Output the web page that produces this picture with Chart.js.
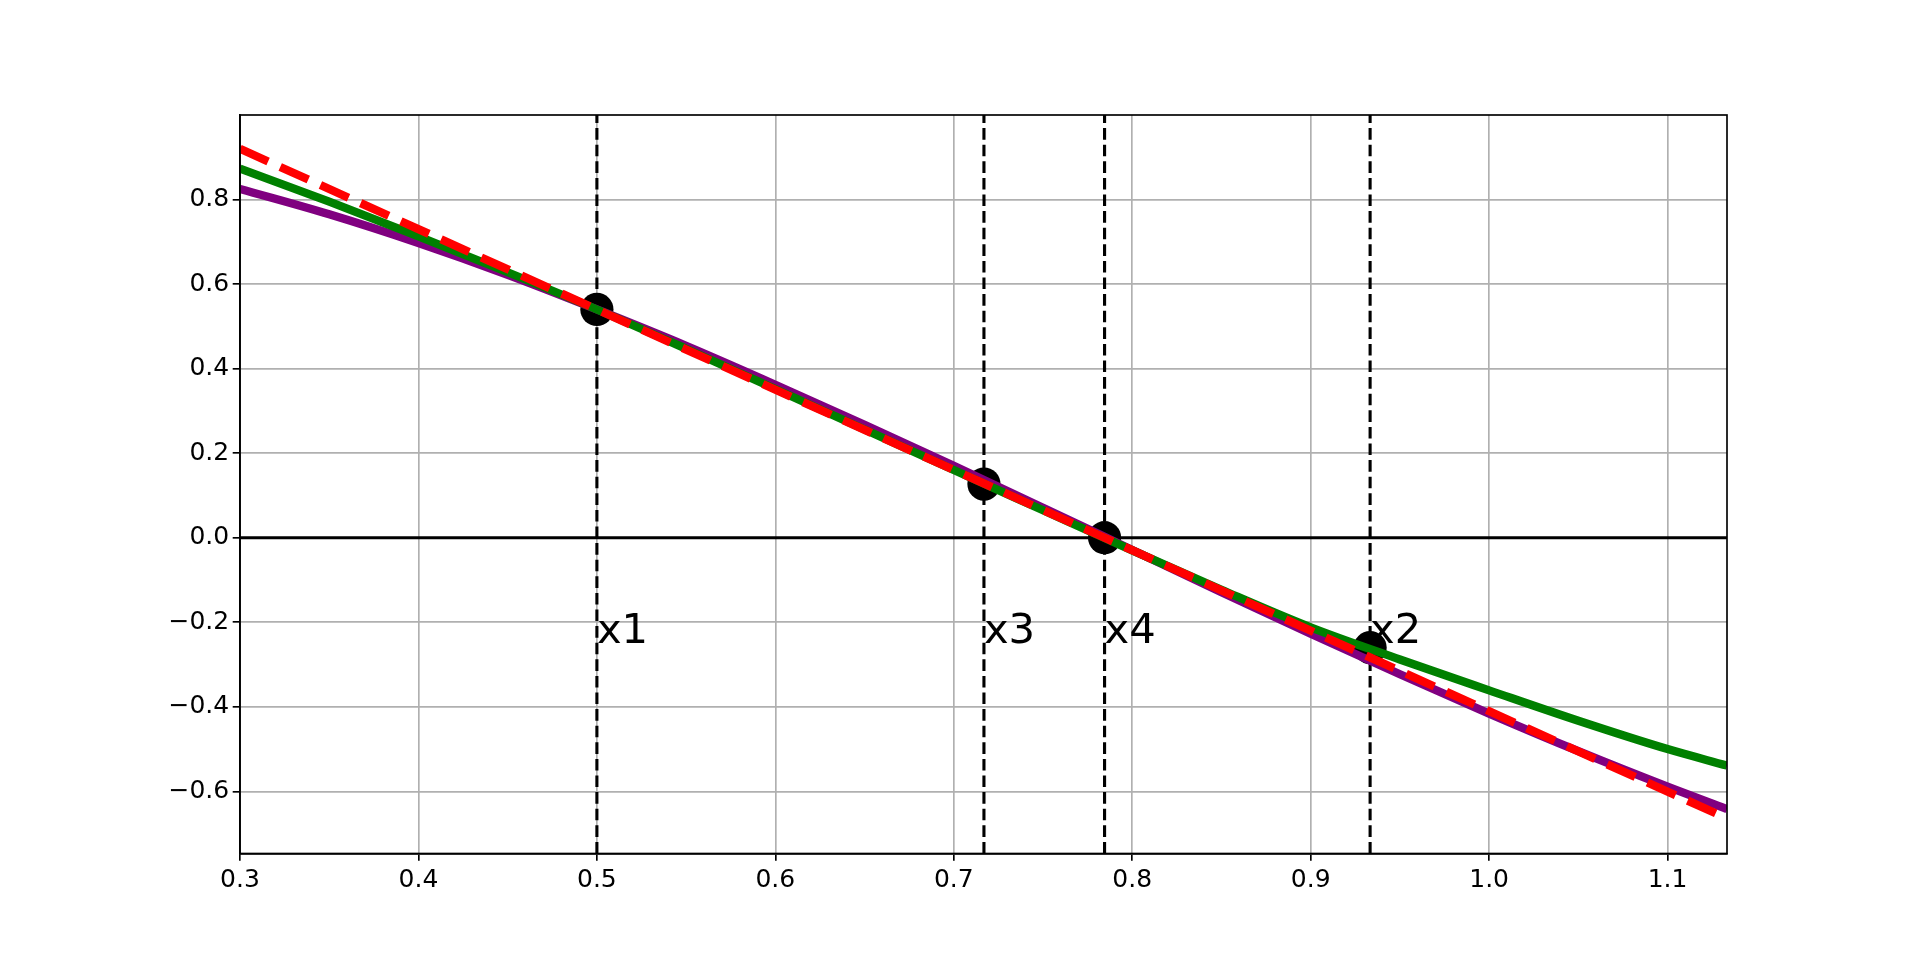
<!DOCTYPE html>
<html>
<head>
<meta charset="utf-8">
<script src="https://cdn.jsdelivr.net/npm/chart.js@4"></script>
<style>
  body { margin: 0; background: #ffffff; }
</style>
</head>
<body>
<canvas id="chart" width="1920" height="960"></canvas>
<script>
// axis ranges and ticks
const xLimits = [0.3, 1.1333];
const yLimits = [-0.747, 1.0];
const xTicks = [0.3, 0.4, 0.5, 0.6, 0.7, 0.8, 0.9, 1.0, 1.1];
const xTickLabels = ['0.3', '0.4', '0.5', '0.6', '0.7', '0.8', '0.9', '1.0', '1.1'];
const yTicks = [-0.6, -0.4, -0.2, 0.0, 0.2, 0.4, 0.6, 0.8];
const yTickLabels = ['\u22120.6', '\u22120.4', '\u22120.2', '0.0', '0.2', '0.4', '0.6', '0.8'];

// curves
const curveX = [0.30, 0.35, 0.40, 0.45, 0.50, 0.55, 0.60, 0.65, 0.70, 0.75, 0.80, 0.85, 0.90, 0.95, 1.00, 1.05, 1.10, 1.1333];
const purpleY = [0.825, 0.765, 0.697, 0.622, 0.540, 0.454, 0.362, 0.267, 0.170, 0.071, -0.029, -0.129, -0.227, -0.323, -0.416, -0.505, -0.589, -0.642];
const greenY = [0.873, 0.795, 0.713, 0.628, 0.540, 0.447, 0.352, 0.256, 0.160, 0.065, -0.030, -0.123, -0.212, -0.288, -0.361, -0.433, -0.500, -0.539];
const redX = [0.3, 0.5, 0.7845, 1.1333];
const redY = [0.920, 0.540, 0.0, -0.664];

// marked points and their labels
const rootX = [0.5, 0.9333, 0.7169, 0.7845];
const rootY = [0.540, -0.260, 0.127, 0.0];
const rootLabels = ['x1', 'x2', 'x3', 'x4'];
const labelY = -0.25;

function pts(xs, ys) {
    return xs.map((x, i) => ({ x: x, y: ys[i] }));
}

const datasets = [];

// black dots
datasets.push({
    data: pts(rootX, rootY),
    showLine: false,
    pointRadius: 16.6,
    pointBackgroundColor: '#000000',
    pointBorderWidth: 0,
    order: 10
});

// y = 0 line
datasets.push({
    data: pts(xLimits, [0, 0]),
    showLine: true,
    borderColor: '#000000',
    borderWidth: 3.1,
    pointRadius: 0,
    order: 9
});

// vertical dashed lines
rootX.forEach(function (x) {
    datasets.push({
        data: pts([x, x], yLimits),
        showLine: true,
        borderColor: '#000000',
        borderWidth: 3.1,
        borderDash: [11.6, 5],
        borderCapStyle: 'butt',
        pointRadius: 0,
        order: 8
    });
});

datasets.push({
    data: pts(curveX, purpleY),
    showLine: true,
    borderColor: '#800080',
    borderWidth: 8.3,
    cubicInterpolationMode: 'monotone',
    pointRadius: 0,
    order: 3
});
datasets.push({
    data: pts(curveX, greenY),
    showLine: true,
    borderColor: '#008000',
    borderWidth: 8.3,
    cubicInterpolationMode: 'monotone',
    pointRadius: 0,
    order: 2
});
datasets.push({
    data: pts(redX, redY),
    showLine: true,
    borderColor: '#ff0000',
    borderWidth: 8.3,
    borderDash: [30.8, 13.3],
    borderCapStyle: 'butt',
    pointRadius: 0,
    order: 1
});

// frame and text labels
const extras = {
    id: 'extras',
    afterDraw: function (chart) {
        const ctx = chart.ctx;
        const a = chart.chartArea;
        const xs = chart.scales.x;
        const ys = chart.scales.y;
        ctx.save();
        ctx.fillStyle = '#000000';
        ctx.font = '41.7px "DejaVu Sans"';
        ctx.textAlign = 'left';
        ctx.textBaseline = 'alphabetic';
        rootLabels.forEach(function (t, i) {
            ctx.fillText(t, xs.getPixelForValue(rootX[i]), ys.getPixelForValue(labelY));
        });
        ctx.strokeStyle = '#000000';
        ctx.lineWidth = 1.67;
        ctx.strokeRect(a.left, a.top, a.right - a.left, a.bottom - a.top);
        ctx.restore();
    }
};

new Chart(document.getElementById('chart'), {
    type: 'scatter',
    data: { datasets: datasets },
    options: {
        responsive: false,
        animation: false,
        layout: { padding: { left: 160, right: 193, top: 115, bottom: 56.5 } },
        plugins: { legend: { display: false }, tooltip: { enabled: false } },
        scales: {
            x: {
                type: 'linear',
                min: xLimits[0],
                max: xLimits[1],
                afterBuildTicks: function (scale) {
                    scale.ticks = xTicks.map(v => ({ value: v }));
                },
                afterFit: function (scale) { scale.height = 50; },
                ticks: {
                    callback: function (v) { return xTickLabels[xTicks.indexOf(v)]; },
                    color: '#000000',
                    font: { family: 'DejaVu Sans', size: 25 },
                    padding: 5,
                    maxRotation: 0,
                    autoSkip: false
                },
                grid: { color: '#b0b0b0', lineWidth: 1.67, tickColor: '#000000', tickLength: 7.3, tickWidth: 1.67 },
                border: { color: '#000000', width: 1.67 }
            },
            y: {
                type: 'linear',
                min: yLimits[0],
                max: yLimits[1],
                afterBuildTicks: function (scale) {
                    scale.ticks = yTicks.map(v => ({ value: v }));
                },
                afterFit: function (scale) { scale.width = 80; },
                ticks: {
                    callback: function (v) { return yTickLabels[yTicks.indexOf(v)]; },
                    color: '#000000',
                    font: { family: 'DejaVu Sans', size: 25 },
                    padding: 3.5,
                    autoSkip: false
                },
                grid: { color: '#b0b0b0', lineWidth: 1.67, tickColor: '#000000', tickLength: 7.3, tickWidth: 1.67 },
                border: { color: '#000000', width: 1.67 }
            }
        }
    },
    plugins: [extras]
});
</script>
</body>
</html>
